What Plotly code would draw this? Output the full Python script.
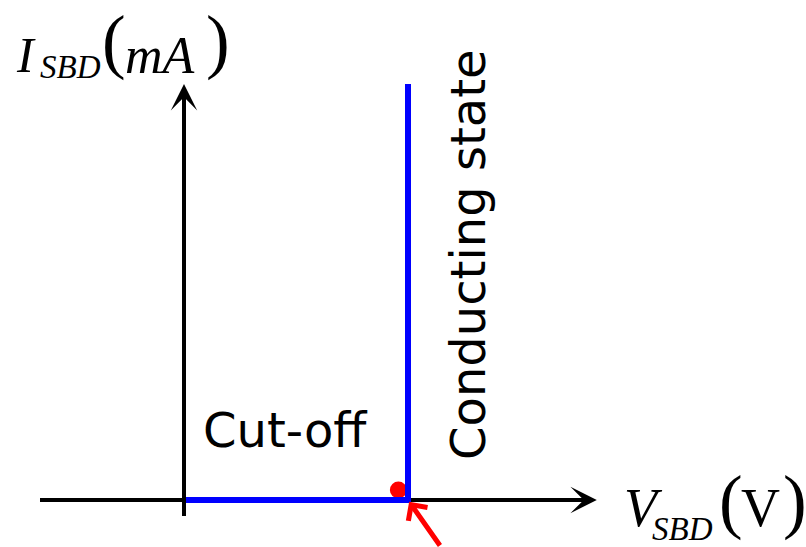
import plotly.graph_objects as go

W, H = 806, 547

# ---- data (conceptual units) ----
v_curve = [0.0, 0.7, 0.7]          # V_SBD (V)
i_curve = [0.0, 0.0, 10.0]         # I_SBD (mA)
dot_v = [0.67]
dot_i = [0.24]
x_axis_span = [-0.45, 1.29]
y_axis_span = [-0.385, 10.0]

x_range = [-0.575, 1.94375]
y_range = [-1.1298, 12.019]

def px(x):
    return x / W

def py(y):
    return 1 - y / H

fig = go.Figure()

fig.add_trace(go.Scatter(x=[x_axis_span[0], x_axis_span[1] - 0.05], y=[0, 0], mode="lines",
                         line=dict(color="black", width=4), hoverinfo="skip"))
fig.add_trace(go.Scatter(x=dot_v, y=dot_i, mode="markers",
                         marker=dict(color="red", size=17, line=dict(width=0)), hoverinfo="skip"))
fig.add_trace(go.Scatter(x=v_curve, y=i_curve, mode="lines",
                         line=dict(color="#0000ff", width=6), hoverinfo="skip"))
fig.add_trace(go.Scatter(x=[0, 0], y=[y_axis_span[0], y_axis_span[1] - 0.5], mode="lines",
                         line=dict(color="black", width=4), hoverinfo="skip"))

ann = []
ann.append(dict(x=x_axis_span[1], y=0, ax=x_axis_span[1] - 0.15, ay=0, xref="x", yref="y",
                axref="x", ayref="y", text="", showarrow=True, arrowhead=3, arrowsize=1.1,
                arrowwidth=4, arrowcolor="black"))
ann.append(dict(x=0, y=y_axis_span[1], ax=0, ay=y_axis_span[1] - 1.2, xref="x", yref="y",
                axref="x", ayref="y", text="", showarrow=True, arrowhead=3, arrowsize=1.1,
                arrowwidth=4, arrowcolor="black"))
ann.append(dict(x=0.7, y=0, ax=33, ay=50, xref="x", yref="y", text="", showarrow=True,
                arrowhead=4, arrowsize=0.9, arrowwidth=5, arrowcolor="red", standoff=2))

serif = "Liberation Serif, Times New Roman, serif"
sans = "DejaVu Sans, Verdana, sans-serif"

def txt(t, x, y, size, fam, xa="left", italic=False, angle=0):
    s = f"<i>{t}</i>" if italic else t
    ann.append(dict(text=s, x=px(x), y=py(y), xref="paper", yref="paper",
                    xanchor=xa, yanchor="middle", showarrow=False, textangle=angle,
                    font=dict(family=fam, size=size, color="black")))

# I_SBD(mA)
txt("I", 14, 55, 50, serif, italic=True)
txt("SBD", 38, 67, 33, serif, italic=True)
txt("(", 100, 41, 71, serif)
txt("mA", 123, 55, 52, serif, italic=True)
txt(")", 204, 41, 71, serif)

# V_SBD(V)
txt("V", 622, 508, 54, serif, italic=True)
txt("SBD", 650, 529, 33, serif, italic=True)
txt("(", 717, 501, 71, serif)
txt("V", 739, 508, 54, serif)
txt(")", 781, 501, 71, serif)

txt("Cut-off", 285, 430, 48, sans, xa="center")
txt("Conducting state", 468, 255, 48, sans, xa="center", angle=-90)

fig.update_layout(
    width=W, height=H, autosize=False,
    margin=dict(l=0, r=0, t=0, b=0),
    paper_bgcolor="white", plot_bgcolor="white",
    showlegend=False,
    xaxis=dict(range=x_range, visible=False, fixedrange=True),
    yaxis=dict(range=y_range, visible=False, fixedrange=True),
    annotations=ann,
)

fig.write_html("out.html", config={"displayModeBar": False},
               post_script="document.body.style.margin='0';document.body.style.overflow='hidden';")
